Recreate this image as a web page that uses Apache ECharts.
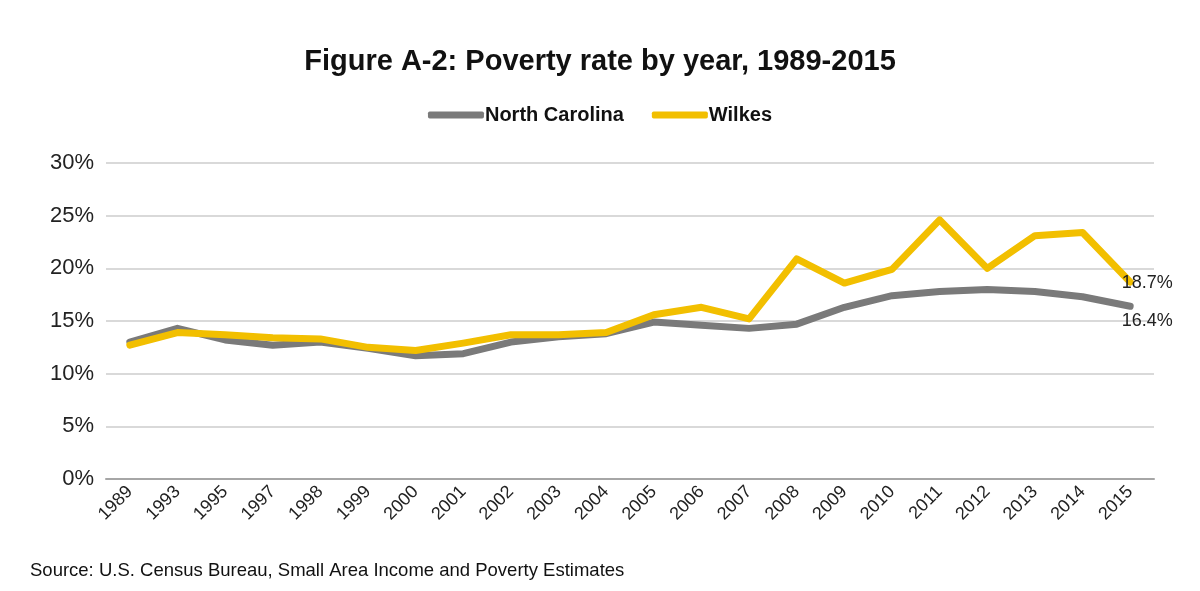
<!DOCTYPE html>
<html>
<head>
<meta charset="utf-8">
<title>Poverty rate by year, 1989-2015</title>
<script src="https://cdn.jsdelivr.net/npm/echarts@6/dist/echarts.min.js"></script>
<style>
  html, body { margin: 0; padding: 0; background: #ffffff; }
  #chart { width: 1200px; height: 591px; }
</style>
</head>
<body>
<div id="chart"></div>
<script>
// Years shown on the category axis
const years = ['1989', '1993', '1995', '1997', '1998', '1999', '2000', '2001', '2002', '2003', '2004',
  '2005', '2006', '2007', '2008', '2009', '2010', '2011', '2012', '2013', '2014', '2015'];

// Poverty rate (%) for the state
const northCarolina = [13.0, 14.3, 13.2, 12.7, 13.0, 12.4, 11.7, 11.9, 13.0, 13.5, 13.8,
  14.9, 14.6, 14.3, 14.7, 16.3, 17.4, 17.8, 18.0, 17.8, 17.3, 16.4];

// Poverty rate (%) for Wilkes County
const wilkes = [12.7, 13.9, 13.7, 13.4, 13.3, 12.5, 12.2, 12.9, 13.7, 13.7, 13.9,
  15.6, 16.3, 15.2, 20.9, 18.6, 19.9, 24.6, 20.0, 23.1, 23.4, 18.7];

// Y axis ticks (percent)
const yTicks = [0, 5, 10, 15, 20, 25, 30];

const GRAY = '#7a7a7a';
const GOLD = '#f2bf00';
const FONT = 'Liberation Sans, Arial, sans-serif';

// Only the final point of each series carries a value label
function lastLabel(arr, offset) {
  return arr.map((v, i) => {
    if (i !== arr.length - 1) return v;
    return {
      value: v,
      label: {
        show: true,
        position: 'inside',
        offset: offset,
        formatter: v.toFixed(1) + '%',
        color: '#222',
        fontSize: 18,
        fontFamily: FONT
      }
    };
  });
}

const chart = echarts.init(document.getElementById('chart'), null, { renderer: 'canvas' });

chart.setOption({
  backgroundColor: '#ffffff',
  animation: false,
  title: {
    text: 'Figure A-2: Poverty rate by year, 1989-2015',
    left: 'center',
    top: 42,
    textStyle: { fontFamily: FONT, fontSize: 29, fontWeight: 'bold', color: '#111' }
  },
  legend: {
    top: 100,
    left: 'center',
    itemWidth: 56,
    itemHeight: 7,
    itemGap: 28,
    icon: 'roundRect',
    textStyle: { fontFamily: FONT, fontSize: 20, fontWeight: 'bold', color: '#111', padding: [0, 0, 0, -4] },
    data: ['North Carolina', 'Wilkes']
  },
  grid: { left: 106, right: 46, top: 163, bottom: 112, containLabel: false },
  xAxis: {
    type: 'category',
    data: years,
    boundaryGap: true,
    axisLine: { show: true, lineStyle: { color: '#a6a6a6', width: 2 } },
    axisTick: { show: false },
    axisLabel: {
      rotate: 45,
      margin: 10,
      interval: 0,
      fontFamily: FONT,
      fontSize: 18,
      color: '#222'
    }
  },
  yAxis: {
    type: 'value',
    min: yTicks[0],
    max: yTicks[yTicks.length - 1],
    interval: 5,
    axisLine: { show: false },
    axisTick: { show: false },
    splitLine: { lineStyle: { color: '#d9d9d9', width: 2 } },
    axisLabel: {
      formatter: '{value}%',
      margin: 12,
      fontFamily: FONT,
      fontSize: 22,
      color: '#222'
    }
  },
  series: [
    {
      name: 'North Carolina',
      type: 'line',
      data: lastLabel(northCarolina, [17, 15]),
      symbol: 'circle',
      symbolSize: 1,
      showSymbol: true,
      lineStyle: { color: GRAY, width: 7, cap: 'round', join: 'round' },
      itemStyle: { color: GRAY },
      z: 2
    },
    {
      name: 'Wilkes',
      type: 'line',
      data: lastLabel(wilkes, [17, 1]),
      symbol: 'circle',
      symbolSize: 1,
      showSymbol: true,
      lineStyle: { color: GOLD, width: 7, cap: 'round', join: 'round' },
      itemStyle: { color: GOLD },
      z: 3
    }
  ],
  graphic: [
    {
      type: 'text',
      left: 30,
      top: 561,
      style: {
        text: 'Source: U.S. Census Bureau, Small Area Income and Poverty Estimates',
        fontFamily: FONT,
        fontSize: 18.5,
        fill: '#111'
      }
    }
  ]
});
</script>
</body>
</html>
